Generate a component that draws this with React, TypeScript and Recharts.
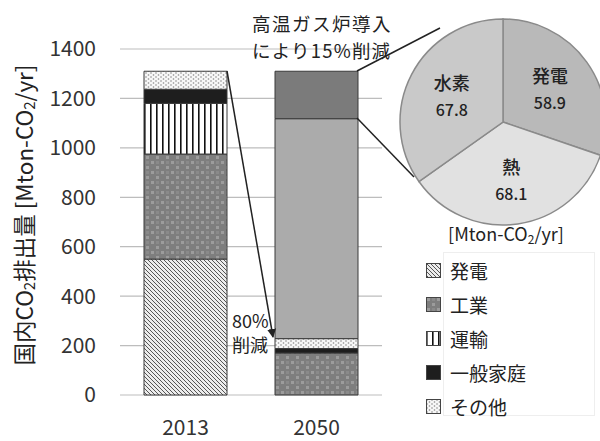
import React from "react"
import { BarChart, Bar, XAxis, YAxis, CartesianGrid, PieChart, Pie, Cell } from "recharts"

const years = ["2013", "2050"]
const hatsuden = [550, 0]
const kogyo = [425, 170]
const unyu = [205, 0]
const katei = [57, 18]
const sonota = [73, 40]
const sakugen = [0, 890]
const htgr = [0, 192]
const yTicks = [0, 200, 400, 600, 800, 1000, 1200, 1400]

const pieNames = ["発電", "熱", "水素"]
const pieValues = [58.9, 68.1, 67.8]
const pieColors = ["#b9b9b9", "#e1e1e1", "#c9c9c9"]

const FONT = '"Noto Sans CJK JP", "Noto Sans", sans-serif'

const series = [
  { key: "発電", values: hatsuden, fill: "url(#pat-hatsuden)", legend: true },
  { key: "工業", values: kogyo, fill: "url(#pat-kogyo)", legend: true },
  { key: "運輸", values: unyu, fill: "url(#pat-unyu)", legend: true },
  { key: "一般家庭", values: katei, fill: "#1e1e1e", legend: true },
  { key: "その他", values: sonota, fill: "url(#pat-sonota)", legend: true },
  { key: "削減", values: sakugen, fill: "#ababab", legend: false },
  { key: "高温ガス炉", values: htgr, fill: "#7b7b7b", legend: false },
]

const barData = years.map((year, i) => {
  const row: Record<string, string | number> = { year }
  series.forEach((s) => (row[s.key] = s.values[i]))
  return row
})

const pieData = pieNames.map((name, i) => ({ name, value: pieValues[i] }))

const RAD = Math.PI / 180

function PieLabel(props: any) {
  const { cx, cy, midAngle, outerRadius, index } = props
  const r = outerRadius * 0.56
  const x = cx + r * Math.cos(-midAngle * RAD)
  const y = cy + r * Math.sin(-midAngle * RAD)
  return (
    <g fontFamily={FONT} fill="#222" textAnchor="middle" fontWeight={500}>
      <text x={x} y={y - 13} fontSize={18} dominantBaseline="central">{pieNames[index]}</text>
      <text x={x} y={y + 14} fontSize={16} dominantBaseline="central">{pieValues[index]}</text>
    </g>
  )
}

export default function App() {
  return (
    <div style={{ position: "absolute", left: 0, top: 0, width: 600, height: 441, background: "#fff", fontFamily: FONT }}>
      <BarChart width={600} height={441} data={barData} margin={{ top: 49, right: 218, bottom: 16, left: 0 }}>
        <defs>
          <pattern id="pat-hatsuden" width="4" height="4" patternUnits="userSpaceOnUse">
            <rect width="4" height="4" fill="#ececec" />
            <path d="M-1,-1 L5,5 M-1,3 L1,5 M3,-1 L5,1" stroke="#555" strokeWidth="1" />
          </pattern>
          <pattern id="pat-kogyo" width="10" height="10" patternUnits="userSpaceOnUse">
            <rect width="10" height="10" fill="#7e7e7e" />
            <rect x="1" y="1" width="3" height="3" fill="#9c9c9c" />
            <rect x="6" y="6" width="3" height="3" fill="#9c9c9c" />
            <rect x="6" y="1" width="3" height="3" fill="#8a8a8a" />
          </pattern>
          <pattern id="pat-unyu" width="6" height="6" patternUnits="userSpaceOnUse">
            <rect width="6" height="6" fill="#fff" />
            <rect x="0" width="1.6" height="6" fill="#111" />
          </pattern>
          <pattern id="pat-sonota" width="5" height="4" patternUnits="userSpaceOnUse">
            <rect width="5" height="4" fill="#f7f7f7" />
            <circle cx="1" cy="1" r="0.8" fill="#888" />
            <circle cx="3.5" cy="3" r="0.8" fill="#888" />
          </pattern>
        </defs>
        <CartesianGrid vertical={false} stroke="#bdbdbd" strokeWidth={1.2} />
        <XAxis
          dataKey="year"
          height={30}
          axisLine={false}
          tickLine={false}
          tickSize={0}
          tickMargin={25}
          tick={{ fontSize: 21, fill: "#333", fontFamily: FONT }}
        />
        <YAxis
          width={120}
          domain={[0, 1400]}
          ticks={yTicks}
          axisLine={false}
          tickLine={false}
          tickSize={0}
          tickMargin={24}
          tick={{ fontSize: 21, fill: "#333", fontFamily: FONT }}
        />
        {series.map((s) => (
          <Bar
            key={s.key}
            dataKey={s.key}
            stackId="a"
            fill={s.fill}
            stroke="#3a3a3a"
            strokeWidth={1}
            barSize={83}
            isAnimationActive={false}
          />
        ))}
      </BarChart>

      <div style={{ position: "absolute", left: 390, top: 10 }}>
        <PieChart width={210} height={220}>
          <Pie
            data={pieData}
            dataKey="value"
            nameKey="name"
            cx={108}
            cy={107}
            outerRadius={103}
            startAngle={90}
            endAngle={-270}
            stroke="#8a8a8a"
            strokeWidth={1.5}
            label={PieLabel}
            labelLine={false}
            isAnimationActive={false}
          >
            {pieData.map((d, i) => (
              <Cell key={d.name} fill={pieColors[i]} />
            ))}
          </Pie>
        </PieChart>
      </div>

      <div
        style={{
          position: "absolute",
          left: 443,
          top: 252,
          width: 150,
          height: 162,
          border: "1px solid #eeeeee",
        }}
      />
      <div style={{ position: "absolute", left: 426, top: 253 }}>
        {series
          .filter((s) => s.legend)
          .map((s) => (
            <div key={s.key} style={{ display: "flex", alignItems: "center", height: 34 }}>
              <svg width={15} height={15} style={{ marginRight: 9 }}>
                <rect x={0.5} y={0.5} width={14} height={14} fill={s.fill} stroke="#444" />
              </svg>
              <span style={{ fontSize: 19, color: "#222", lineHeight: 1 }}>{s.key}</span>
            </div>
          ))}
      </div>

      <svg width={600} height={441} style={{ position: "absolute", left: 0, top: 0, pointerEvents: "none" }}>
        <defs>
          <marker id="arrow" viewBox="0 0 10 10" refX="9" refY="5" markerWidth="6" markerHeight="6" orient="auto">
            <path d="M0,0 L10,5 L0,10 z" fill="#222" />
          </marker>
        </defs>
        <g fontFamily={FONT} fill="#222">
          <text transform="translate(23,215) rotate(-90)" textAnchor="middle" fontSize={22.5} dominantBaseline="central">
            国内CO<tspan fontSize={15} dy={5}>2</tspan>
            <tspan dy={-5}>排出量 [Mton-CO</tspan>
            <tspan fontSize={15} dy={5}>2</tspan>
            <tspan dy={-5}>/yr]</tspan>
          </text>
          <text x={252} y={23} fontSize={18.5} letterSpacing={1.5} dominantBaseline="central">高温ガス炉導入</text>
          <text x={252} y={50} fontSize={18.5} letterSpacing={1.2} dominantBaseline="central">により15%削減</text>
          <text x={232} y={320} fontSize={18} dominantBaseline="central">80%</text>
          <text x={232} y={344} fontSize={18} dominantBaseline="central">削減</text>
          <text x={506} y={233} fontSize={18} textAnchor="middle" dominantBaseline="central">
            [Mton-CO<tspan fontSize={12} dy={5}>2</tspan>
            <tspan dy={-5}>/yr]</tspan>
          </text>
        </g>
        <line x1={227} y1={71} x2={273} y2={337} stroke="#222" strokeWidth={1.5} markerEnd="url(#arrow)" />
        <line x1={357} y1={71} x2={440} y2={28} stroke="#222" strokeWidth={1.5} />
        <line x1={357} y1={118} x2={414} y2={177} stroke="#222" strokeWidth={1.5} />
      </svg>
    </div>
  )
}
